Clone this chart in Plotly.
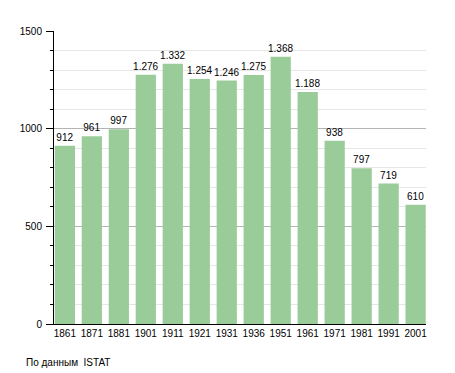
import plotly.graph_objects as go

years = ["1861", "1871", "1881", "1901", "1911", "1921", "1931", "1936",
         "1951", "1961", "1971", "1981", "1991", "2001"]
population = [912, 961, 997, 1276, 1332, 1254, 1246, 1275, 1368, 1188, 938, 797, 719, 610]
source_note = "По данным  ISTAT"

FONT = "Liberation Sans, Arial, sans-serif"

# page body has an 8px offset; plot area targets screen x 50..426, y 31..324
L, T = 42, 23
PW, PH = 376, 293

fig = go.Figure(go.Bar(
    x=years, y=population,
    marker=dict(color="#99cc99", line=dict(width=0)),
    width=0.75,
    texttemplate="%{y:,}", textposition="outside",
    constraintext="none",
    textfont=dict(size=10, color="#000", family=FONT),
    cliponaxis=False,
))

fig.update_layout(
    width=455, height=373,
    margin=dict(l=L, r=455 - L - PW, t=T, b=373 - T - PH),
    paper_bgcolor="white", plot_bgcolor="white",
    separators=",.",
    showlegend=False,
    font=dict(family=FONT, size=10, color="#000"),
    xaxis=dict(
        type="category", range=[-0.403, 13.385],
        showline=True, linecolor="#000", linewidth=1,
        ticks="", showgrid=False,
        tickfont=dict(size=10, color="#000"),
    ),
    yaxis=dict(
        range=[0, 1500], tickvals=[0, 500, 1000, 1500],
        showline=True, linecolor="#000", linewidth=1,
        ticks="outside", ticklen=7, tickcolor="#000", tickwidth=1,
        showgrid=True, gridcolor="#b4b4b4", gridwidth=1,
        zeroline=False,
        ticklabelstandoff=2,
        tickfont=dict(size=10, color="#000"),
        minor=dict(dtick=100, ticks="outside", ticklen=3, tickcolor="#000",
                   showgrid=True, gridcolor="#e6e6e6", gridwidth=1),
    ),
    annotations=[dict(
        text=source_note, xref="paper", yref="paper",
        x=(12 - L) / PW, y=((T + PH) - 354) / PH,
        xanchor="left", yanchor="middle", showarrow=False,
        font=dict(size=10, color="#000", family=FONT),
    )],
)

fig.write_html("out.html")
